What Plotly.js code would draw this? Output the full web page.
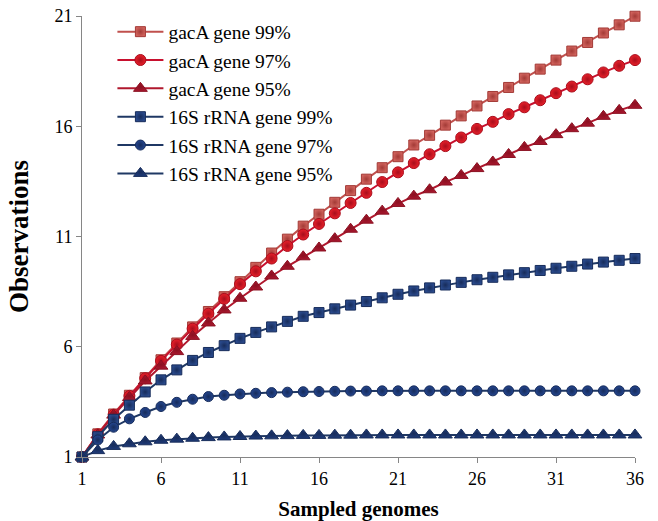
<!DOCTYPE html>
<html>
<head>
<meta charset="utf-8">
<script src="https://cdn.plot.ly/plotly-3.0.1.min.js"></script>
<style>
html,body{margin:0;padding:0;background:#fff;}
#chart{width:658px;height:521px;}
</style>
</head>
<body>
<div id="chart"></div>
<script>
// Sampled genomes (x)
const sampled = [1,2,3,4,5,6,7,8,9,10,11,12,13,14,15,16,17,18,19,20,21,22,23,24,25,26,27,28,29,30,31,32,33,34,35,36];

const gacA99 = [1,2.05,2.95,3.8,4.6,5.41,6.17,6.9,7.6,8.27,8.95,9.6,10.25,10.88,11.47,12.01,12.55,13.08,13.6,14.12,14.62,15.15,15.59,16.05,16.47,16.92,17.35,17.76,18.18,18.59,19.0,19.41,19.8,20.23,20.6,20.99];
const gacA97 = [1,2.03,2.92,3.77,4.57,5.36,6.1,6.82,7.5,8.17,8.84,9.42,10.0,10.57,11.09,11.57,12.05,12.52,12.98,13.47,13.91,14.33,14.73,15.1,15.49,15.88,16.2,16.55,16.86,17.18,17.5,17.8,18.13,18.44,18.74,19.0];
const gacA95 = [1,2.0,2.9,3.7,4.45,5.12,5.78,6.47,7.08,7.67,8.2,8.71,9.21,9.65,10.08,10.48,10.9,11.33,11.74,12.15,12.5,12.83,13.12,13.47,13.77,14.08,14.38,14.72,15.04,15.31,15.62,15.89,16.14,16.45,16.72,16.95];
const s16_99 = [1,1.92,2.71,3.35,3.95,4.5,4.95,5.38,5.74,6.05,6.38,6.65,6.9,7.15,7.38,7.55,7.72,7.89,8.05,8.22,8.38,8.53,8.67,8.8,8.92,9.04,9.15,9.26,9.36,9.46,9.56,9.65,9.75,9.84,9.92,10.0];
const s16_97 = [1,1.77,2.35,2.73,3.02,3.29,3.48,3.62,3.74,3.8,3.86,3.89,3.92,3.94,3.96,3.97,3.98,3.99,3.99,4.0,4.0,4.0,4.0,4.0,4.0,4.0,4.0,4.0,4.0,4.0,4.0,4.0,4.0,4.0,4.0,4.0];
const s16_95 = [1,1.29,1.48,1.6,1.69,1.76,1.81,1.85,1.88,1.91,1.93,1.95,1.96,1.97,1.98,1.98,1.99,1.99,2.0,2.0,2.0,2.0,2.0,2.0,2.0,2.0,2.0,2.0,2.0,2.0,2.0,2.0,2.0,2.0,2.0,2.0];

const seriesNames = ["gacA gene 99%","gacA gene 97%","gacA gene 95%","16S rRNA gene 99%","16S rRNA gene 97%","16S rRNA gene 95%"];
const xTicks = [1,6,11,16,21,26,31,36];
const yTicks = [1,6,11,16,21];

function tr(y, name, lineColor, markerColor, edgeColor, symbol, size){
  return {
    x: sampled, y: y, name: name, type: 'scatter', mode: 'lines+markers',
    line: {color: lineColor, width: 2},
    marker: {symbol: symbol, size: size, color: markerColor,
             line: {color: edgeColor, width: 1},
             gradient: {type: 'radial', color: edgeColor}},
    cliponaxis: false
  };
}

const data = [
  tr(gacA99, seriesNames[0], '#C0504D', '#D0625C', '#A33A36', 'square', 10),
  tr(gacA97, seriesNames[1], '#C8102E', '#E8202A', '#A80E1C', 'circle', 11),
  tr(gacA95, seriesNames[2], '#B0182E', '#A8172E', '#8A1020', 'triangle-up', 12),
  tr(s16_99, seriesNames[3], '#1F3864', '#2A4A8C', '#172C5A', 'square', 10),
  tr(s16_97, seriesNames[4], '#1F3864', '#244690', '#172C5A', 'circle', 10),
  tr(s16_95, seriesNames[5], '#1F3864', '#1E3A78', '#172C5A', 'triangle-up', 12)
];

const layout = {
  width: 658, height: 521,
  margin: {l: 82, r: 23, t: 16, b: 64},
  paper_bgcolor: '#ffffff', plot_bgcolor: '#ffffff',
  font: {family: '"Liberation Serif", "Times New Roman", serif', color: '#000', size: 18},
  showlegend: true,
  legend: {
    x: 0.055, y: 1.008, xanchor: 'left', yanchor: 'top',
    font: {family: '"Liberation Serif", serif', size: 19.5, color: '#000'},
    bgcolor: 'rgba(0,0,0,0)', tracegroupgap: 0, itemwidth: 46
  },
  xaxis: {
    range: [1, 36], tickmode: 'array', tickvals: xTicks,
    showgrid: false, zeroline: false, showline: true, linecolor: '#868686', linewidth: 1,
    ticks: 'outside', ticklen: 5, tickcolor: '#868686',
    tickfont: {family: '"Liberation Serif", serif', size: 18, color: '#000'},
    title: {text: '<b>Sampled genomes</b>', font: {family: '"Liberation Serif", serif', size: 21, color: '#000'}, standoff: 14}
  },
  yaxis: {
    range: [1, 21], tickmode: 'array', tickvals: yTicks,
    showgrid: false, zeroline: false, showline: true, linecolor: '#868686', linewidth: 1,
    ticks: 'outside', ticklen: 5, tickcolor: '#868686',
    tickfont: {family: '"Liberation Serif", serif', size: 18, color: '#000'},
    title: {text: '<b>Observations</b>', font: {family: '"Liberation Serif", serif', size: 27, color: '#000'}, standoff: 17}
  }
};

Plotly.newPlot('chart', data, layout, {displayModeBar: false, staticPlot: true});
</script>
</body>
</html>
